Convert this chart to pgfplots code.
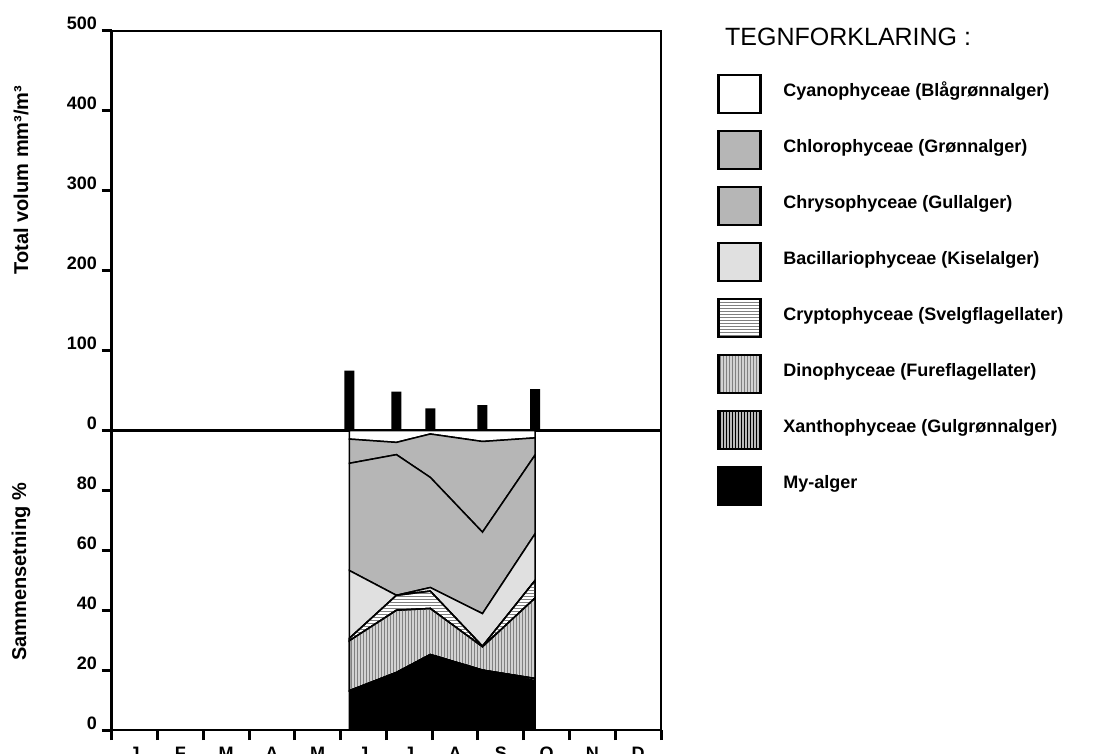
\documentclass[border=0pt]{standalone}
\usepackage{fontspec}
\setmainfont{Liberation Sans}
\usepackage{pgfplots}
\pgfplotsset{compat=1.18}
\usetikzlibrary{patterns}
\definecolor{chl}{RGB}{182,182,182}
\definecolor{bac}{RGB}{224,224,224}
\newcommand{\legtxt}[1]{\rule[-7pt]{0pt}{14pt}\smash{#1}}
\begin{document}
\begin{tikzpicture}[x=1pt,y=1pt]
\path[use as bounding box] (0pt,0pt) rectangle (1098pt,753pt);
\pgfplotsset{
  base/.style={
    scale only axis, width=549.3pt, xmin=0, xmax=12,
    axis line style={line width=2.6pt},
    tick align=outside,
    major tick length=10pt,
    tick style={black, line width=3pt},
    ytick pos=left,
    /pgf/number format/assume math mode=true,
    ticklabel style={font=\bfseries\fontsize{18}{18}\selectfont},
    yticklabel style={anchor=base east, inner sep=0pt, xshift=-4.7pt, yshift=1pt},
  }
}
% top panel
\begin{axis}[base, at={(111.7pt,322.3pt)}, anchor=south west, height=399.7pt,
  ymin=0, ymax=500, ytick={0,100,200,300,400,500}, xtick=\empty]
\addplot[ybar, bar width=10pt, fill=black, draw=none] coordinates {
(5.19,75) (6.22,48.75) (6.96,28) (8.10,32) (9.25,52)};
\end{axis}
% bottom panel
\begin{axis}[base, at={(111.7pt,23pt)}, anchor=south west, height=299.3pt,
  ymin=0, ymax=100, ytick={0,20,40,60,80},
  xtick={0,1,...,12}, xticklabels={J,F,M,A,M,J,J,A,S,O,N,D,{}},
  xtick pos=bottom,
  xticklabel style={anchor=north, inner sep=0pt, yshift=-6pt, xshift=22.9pt, text height=13pt},
  stack plots=y, reverse legend,
  legend image code/.code={\draw[#1, draw=black, line width=2.5pt] (0pt,-19pt) rectangle (42pt,19pt);},
  legend style={at={(1.102,2.1926)}, anchor=north west, draw=none, fill=none,
    inner sep=0pt, outer sep=0pt, row sep=15.5pt, column sep=21.8pt,
    font=\bfseries\fontsize{18}{18}\selectfont, nodes={inner sep=0pt}},
  legend cell align=left]
\addplot[fill=black, draw=black, line width=1.5pt] coordinates {
(5.19,13.1) (6.22,19.2) (6.96,25.2) (8.10,20.0) (9.25,16.4)} \closedcycle;
\addplot[fill=gray!55, draw=black, line width=1.5pt, postaction={pattern=vertical lines, pattern color=black}] coordinates {
(5.19,0) (6.22,0) (6.96,0) (8.10,0) (9.25,0.8)} \closedcycle;
\addplot[fill=gray!35, draw=black, line width=1.5pt, postaction={pattern=vertical lines, pattern color=gray}] coordinates {
(5.19,16.7) (6.22,20.8) (6.96,15.4) (8.10,7.8) (9.25,26.9)} \closedcycle;
\addplot[fill=white, draw=black, line width=1.5pt, postaction={pattern=horizontal lines, pattern color=gray}] coordinates {
(5.19,0.8) (6.22,5.0) (6.96,5.8) (8.10,0.2) (9.25,5.9)} \closedcycle;
\addplot[fill=bac, draw=black, line width=1.5pt] coordinates {
(5.19,22.7) (6.22,0) (6.96,1.2) (8.10,10.9) (9.25,15.6)} \closedcycle;
\addplot[fill=chl, draw=black, line width=1.5pt] coordinates {
(5.19,35.8) (6.22,47.0) (6.96,36.8) (8.10,27.2) (9.25,26.3)} \closedcycle;
\addplot[fill=chl, draw=black, line width=1.5pt] coordinates {
(5.19,8.1) (6.22,4.1) (6.96,14.5) (8.10,30.3) (9.25,5.7)} \closedcycle;
\addplot[fill=white, draw=black, line width=1.5pt] coordinates {
(5.19,2.8) (6.22,3.9) (6.96,1.1) (8.10,3.6) (9.25,2.4)} \closedcycle;
\legend{\legtxt{My-alger}, \legtxt{Xanthophyceae (Gulgrønnalger)}, \legtxt{Dinophyceae (Fureflagellater)}, \legtxt{Cryptophyceae (Svelgflagellater)}, \legtxt{Bacillariophyceae (Kiselalger)}, \legtxt{Chrysophyceae (Gullalger)}, \legtxt{Chlorophyceae (Grønnalger)}, \legtxt{Cyanophyceae (Blågrønnalger)}}
\end{axis}
\node[anchor=base west, inner sep=0pt, font=\fontsize{25}{25}\selectfont] at (725pt,707pt) {TEGNFORKLARING :};
\node[rotate=90, inner sep=0pt, font=\bfseries\fontsize{20}{20}\selectfont] at (21pt,573pt) {Total volum mm³/m³};
\node[rotate=90, inner sep=0pt, font=\bfseries\fontsize{20}{20}\selectfont] at (21pt,181pt) {Sammensetning \%};
\end{tikzpicture}
\end{document}
